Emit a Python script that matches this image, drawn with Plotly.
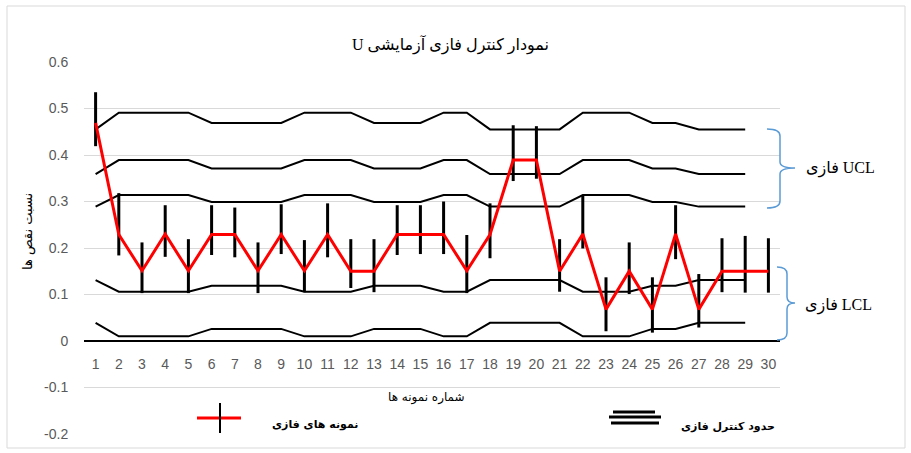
import plotly.graph_objects as go

# ---------------- data ----------------
samples = list(range(1, 31))
tick_labels = [str(s) for s in samples]

u_values = [0.469, 0.229, 0.151, 0.230, 0.151, 0.229, 0.229, 0.151, 0.229, 0.151,
            0.229, 0.150, 0.150, 0.229, 0.229, 0.229, 0.151, 0.229, 0.389, 0.389,
            0.150, 0.230, 0.068, 0.150, 0.068, 0.230, 0.068, 0.150, 0.150, 0.150]
bar_upper = [0.535, 0.318, 0.212, 0.292, 0.219, 0.292, 0.287, 0.212, 0.294, 0.217,
             0.296, 0.219, 0.219, 0.292, 0.292, 0.300, 0.228, 0.296, 0.464, 0.462,
             0.219, 0.314, 0.137, 0.212, 0.137, 0.292, 0.144, 0.221, 0.226, 0.221]
bar_lower = [0.419, 0.184, 0.103, 0.181, 0.103, 0.185, 0.180, 0.103, 0.187, 0.105,
             0.180, 0.114, 0.105, 0.185, 0.187, 0.187, 0.103, 0.178, 0.344, 0.349,
             0.106, 0.199, 0.021, 0.101, 0.018, 0.176, 0.029, 0.105, 0.104, 0.104]

ucl_high = [0.455, 0.491, 0.491, 0.491, 0.491, 0.469, 0.469, 0.469, 0.469, 0.491,
            0.491, 0.491, 0.469, 0.469, 0.469, 0.491, 0.491, 0.455, 0.455, 0.455,
            0.455, 0.491, 0.491, 0.491, 0.469, 0.469, 0.455, 0.455, 0.455, None]
ucl_mid = [0.359, 0.389, 0.389, 0.389, 0.389, 0.371, 0.371, 0.371, 0.371, 0.389,
           0.389, 0.389, 0.371, 0.371, 0.371, 0.389, 0.389, 0.359, 0.359, 0.359,
           0.359, 0.389, 0.389, 0.389, 0.371, 0.371, 0.359, 0.359, 0.359, None]
ucl_low = [0.289, 0.314, 0.314, 0.314, 0.314, 0.299, 0.299, 0.299, 0.299, 0.314,
           0.314, 0.314, 0.299, 0.299, 0.299, 0.314, 0.314, 0.289, 0.289, 0.289,
           0.289, 0.314, 0.314, 0.314, 0.299, 0.299, 0.289, 0.289, 0.289, None]
lcl_high = [0.131, 0.106, 0.106, 0.106, 0.106, 0.119, 0.119, 0.119, 0.119, 0.106,
            0.106, 0.106, 0.119, 0.119, 0.119, 0.106, 0.106, 0.131, 0.131, 0.131,
            0.131, 0.106, 0.106, 0.106, 0.119, 0.119, 0.131, 0.131, 0.131, None]
lcl_low = [0.039, 0.010, 0.010, 0.010, 0.010, 0.026, 0.026, 0.026, 0.026, 0.010,
           0.010, 0.010, 0.026, 0.026, 0.026, 0.010, 0.010, 0.039, 0.039, 0.039,
           0.039, 0.010, 0.010, 0.010, 0.026, 0.026, 0.039, 0.039, 0.039, None]

y_tick_values = [-0.2, -0.1, 0, 0.1, 0.2, 0.3, 0.4, 0.5, 0.6]
y_tick_text = ["-0.2", "-0.1", "0", "0.1", "0.2", "0.3", "0.4", "0.5", "0.6"]

title_text = "U نمودار کنترل فازی آزمایشی"
x_title = "شماره نمونه ها"
y_title = "نسبت نقص ها"
legend_samples = "نمونه های فازی"
legend_limits = "حدود کنترل فازی"
ucl_label = "فازی UCL"
lcl_label = "فازی LCL"

# ---------------- layout geometry (pixels) ----------------
W, H = 911, 453
L, R, T, B = 84, 780, 62, 434


def px(x):
    return (x - L) / (R - L)


def py(y):
    return (B - y) / (B - T)


fig = go.Figure()

for lim in [ucl_high, ucl_mid, ucl_low, lcl_high, lcl_low]:
    fig.add_trace(go.Scatter(x=samples, y=lim, mode="lines",
                             line=dict(color="black", width=2),
                             showlegend=False, hoverinfo="skip"))

err_plus = [u - v for u, v in zip(bar_upper, u_values)]
err_minus = [v - l for v, l in zip(u_values, bar_lower)]

fig.add_trace(go.Scatter(x=samples, y=u_values, mode="lines",
                         line=dict(color="#FF0000", width=3),
                         error_y=dict(type="data", symmetric=False, array=err_plus,
                                      arrayminus=err_minus, color="black",
                                      thickness=3, width=0),
                         showlegend=False))

shapes = []
# chart border
shapes.append(dict(type="rect", xref="paper", yref="paper",
                   x0=px(7), x1=px(905), y0=py(448), y1=py(6),
                   line=dict(color="#D9D9D9", width=1), layer="below"))


def bracket(xa, xv, xt, y0, ym, y1):
    pts = (f"M {px(xa)},{py(y0)} Q {px(xv)},{py(y0)} {px(xv)},{py(y0+7)} "
           f"L {px(xv)},{py(ym-6)} Q {px(xv)},{py(ym)} {px(xt)},{py(ym)} "
           f"Q {px(xv)},{py(ym)} {px(xv)},{py(ym+6)} "
           f"L {px(xv)},{py(y1-7)} Q {px(xv)},{py(y1)} {px(xa)},{py(y1)}")
    return dict(type="path", xref="paper", yref="paper", path=pts,
                line=dict(color="#5B9BD5", width=1.5))


shapes.append(bracket(767, 780, 795, 129, 168, 208))
shapes.append(bracket(777, 787, 795, 267, 303, 340))

# legend glyphs
shapes.append(dict(type="line", xref="paper", yref="paper",
                   x0=px(197), x1=px(241), y0=py(418), y1=py(418),
                   line=dict(color="#FF0000", width=3)))
shapes.append(dict(type="line", xref="paper", yref="paper",
                   x0=px(220), x1=px(220), y0=py(403), y1=py(433),
                   line=dict(color="black", width=2)))
for (xa, xb, yy) in [(613, 655, 412), (609, 661, 417), (611, 659, 423)]:
    shapes.append(dict(type="line", xref="paper", yref="paper",
                       x0=px(xa), x1=px(xb), y0=py(yy), y1=py(yy),
                       line=dict(color="black", width=3)))

annotations = [
    dict(text=title_text, x=px(450), y=py(45), xref="paper", yref="paper",
         showarrow=False, xanchor="center", yanchor="middle",
         font=dict(family="Liberation Serif, DejaVu Sans", size=16, color="black")),
    dict(text=x_title, x=px(426), y=py(397), xref="paper", yref="paper",
         showarrow=False, xanchor="center", yanchor="middle",
         font=dict(family="DejaVu Sans", size=12, color="black")),
    dict(text=y_title, x=px(28), y=py(232), xref="paper", yref="paper",
         showarrow=False, xanchor="center", yanchor="middle", textangle=-90,
         font=dict(family="DejaVu Sans", size=13, color="black")),
    dict(text="<b>" + legend_samples + "</b>", x=px(315), y=py(424), xref="paper", yref="paper",
         showarrow=False, xanchor="center", yanchor="middle",
         font=dict(family="DejaVu Sans", size=11, color="black")),
    dict(text="<b>" + legend_limits + "</b>", x=px(728), y=py(426), xref="paper", yref="paper",
         showarrow=False, xanchor="center", yanchor="middle",
         font=dict(family="DejaVu Sans", size=11, color="black")),
    dict(text=ucl_label, x=px(840), y=py(168), xref="paper", yref="paper",
         showarrow=False, xanchor="center", yanchor="middle",
         font=dict(family="Liberation Serif, DejaVu Sans", size=16, color="black")),
    dict(text=lcl_label, x=px(838), y=py(305), xref="paper", yref="paper",
         showarrow=False, xanchor="center", yanchor="middle",
         font=dict(family="Liberation Serif, DejaVu Sans", size=16, color="black")),
]

fig.update_layout(
    width=W, height=H,
    margin=dict(l=L, r=W - R, t=T, b=H - B, pad=0),
    paper_bgcolor="white", plot_bgcolor="white",
    showlegend=False,
    shapes=shapes, annotations=annotations,
    xaxis=dict(range=[0.5, 30.5], tickmode="array", tickvals=samples, ticktext=tick_labels,
               anchor="free", position=0.25, showline=True, linecolor="black", linewidth=2,
               showgrid=False, zeroline=False, ticks="outside", ticklen=10,
               tickcolor="rgba(0,0,0,0)",
               tickfont=dict(family="Liberation Sans", size=14, color="#595959")),
    yaxis=dict(range=[-0.2, 0.6], tickmode="array", tickvals=y_tick_values, ticktext=y_tick_text,
               showgrid=True, gridcolor="#D9D9D9", gridwidth=1, zeroline=False,
               showline=False, ticks="outside", ticklen=12, tickcolor="rgba(0,0,0,0)",
               tickfont=dict(family="Liberation Sans", size=14, color="#595959")),
)

fig.write_html("out.html", config={"displayModeBar": False},
               post_script="document.body.style.margin='0';document.body.style.overflow='hidden';")
